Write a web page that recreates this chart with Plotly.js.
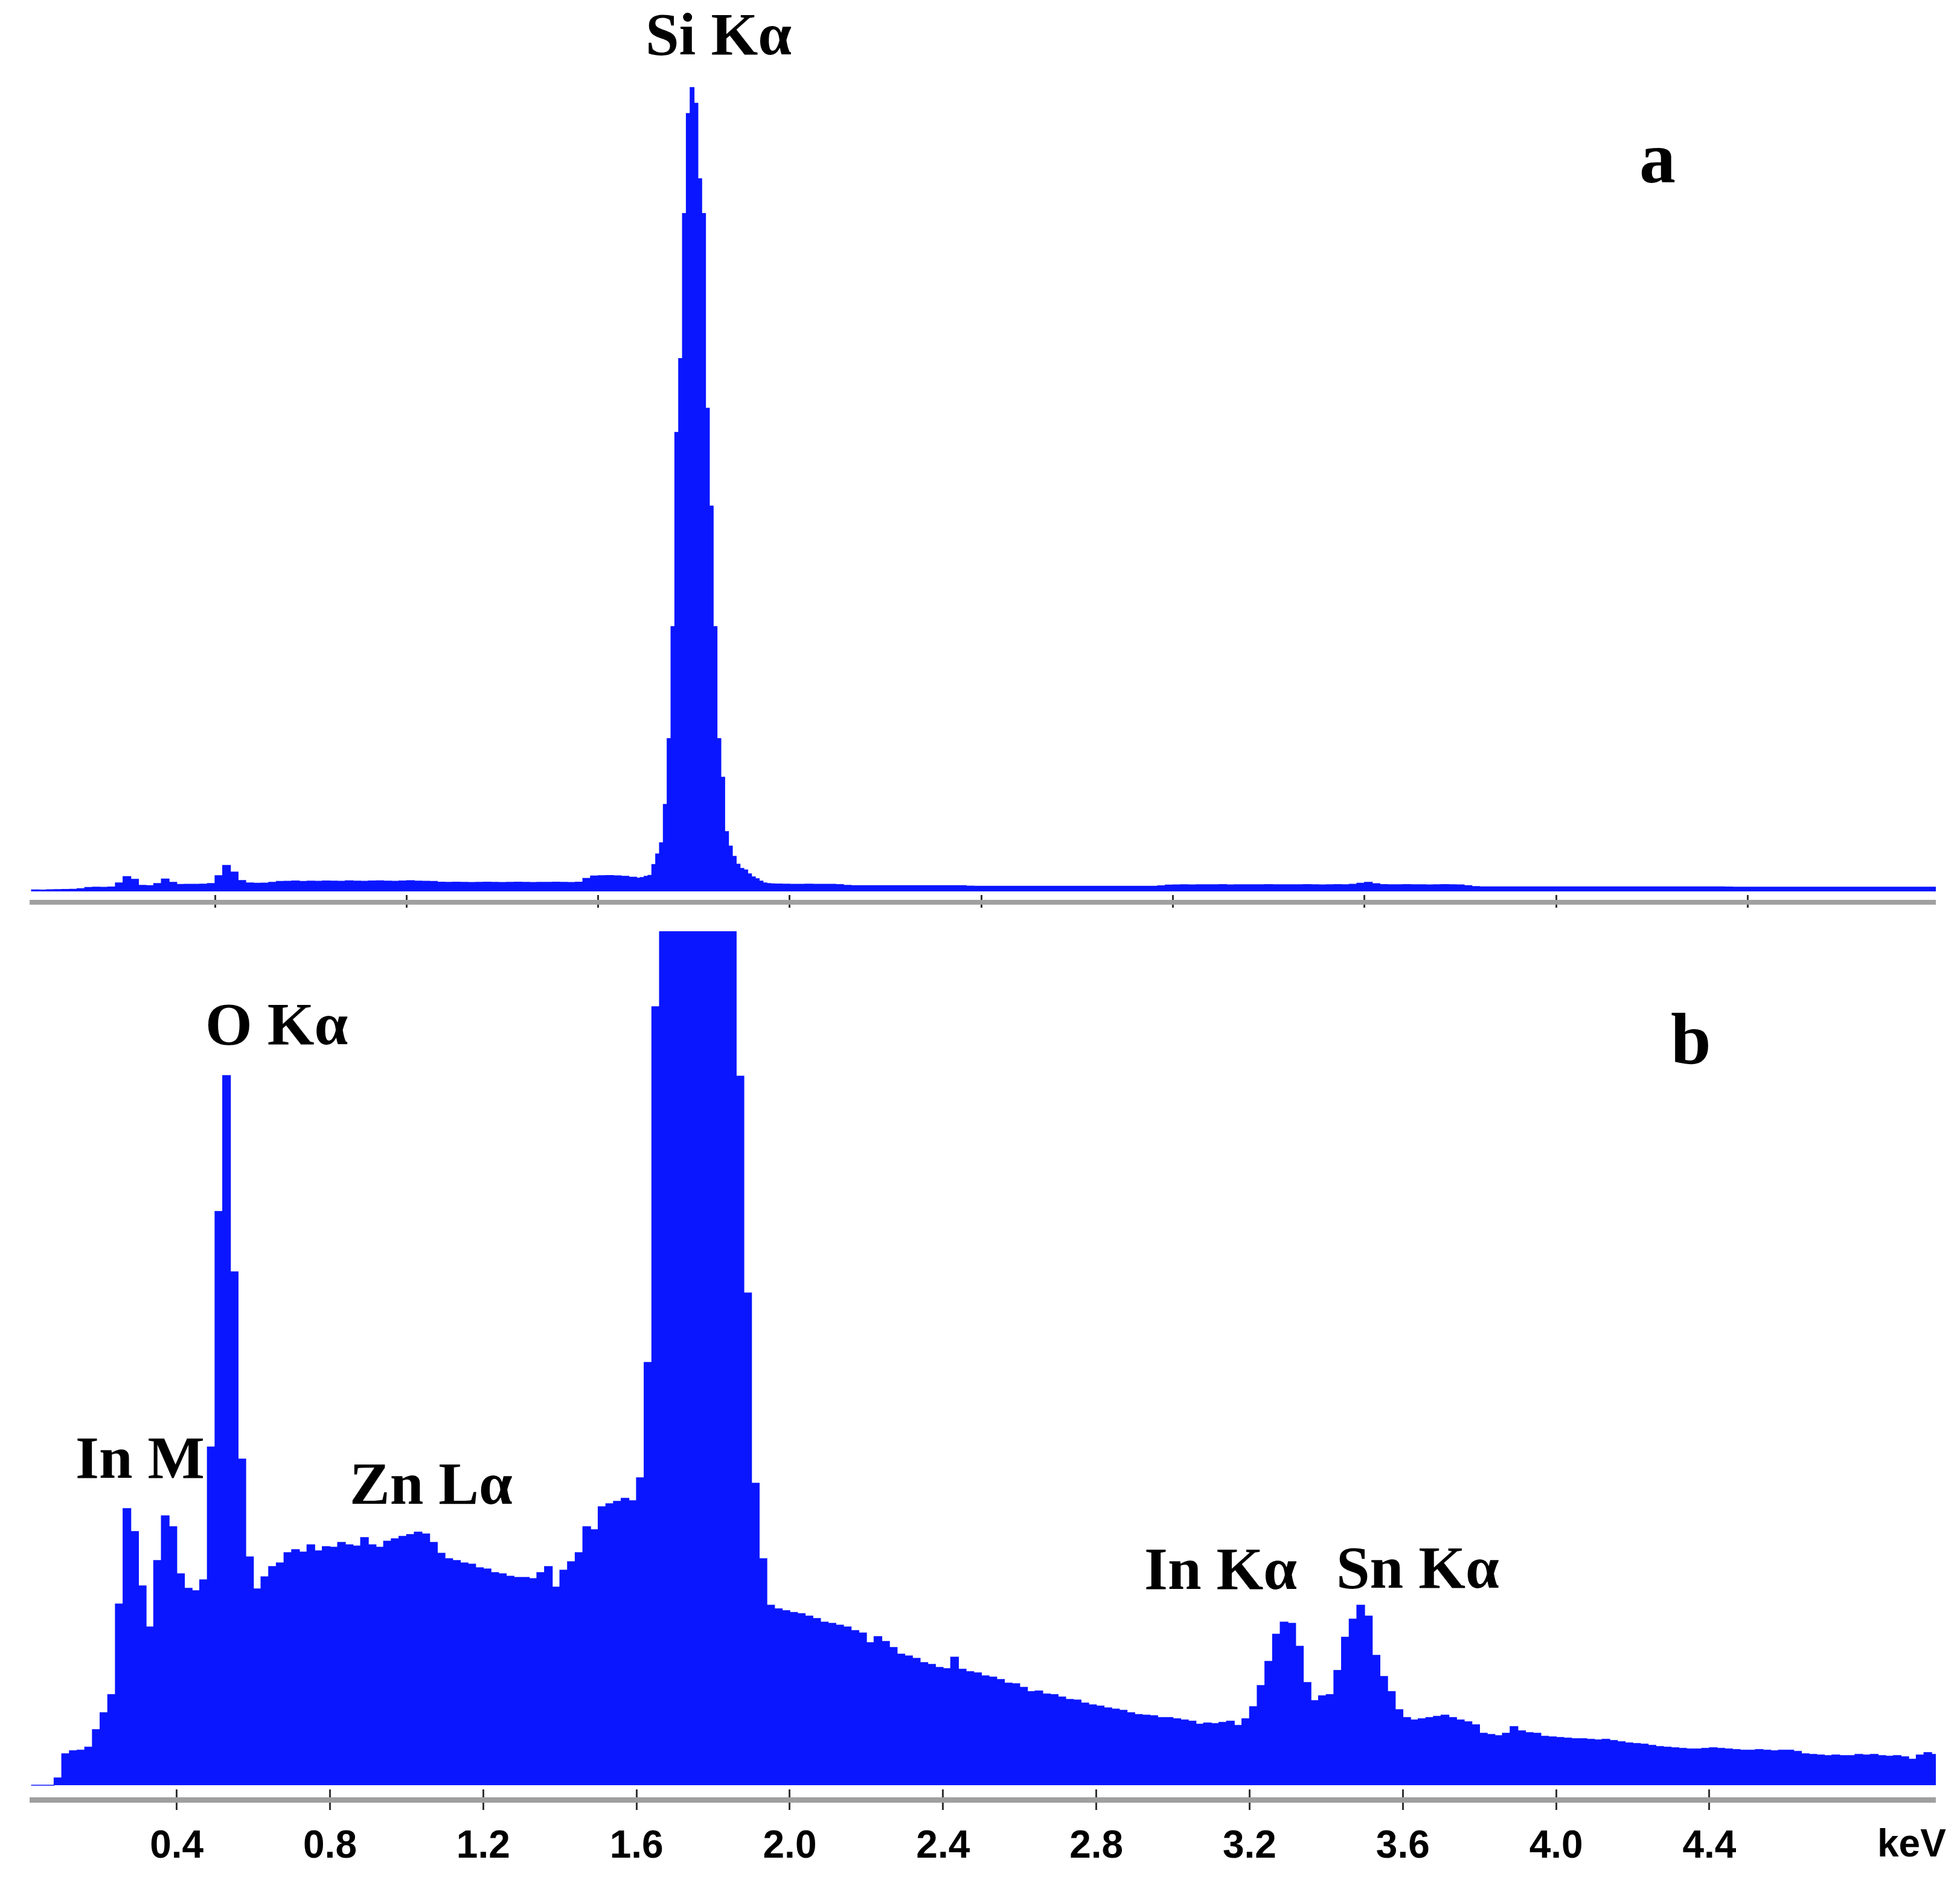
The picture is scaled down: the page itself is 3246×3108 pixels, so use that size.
<!DOCTYPE html>
<html><head><meta charset="utf-8">
<script src="https://cdn.plot.ly/plotly-3.0.1.min.js"></script>
<style>html,body{margin:0;padding:0;background:#fff}#chart{width:3246px;height:3108px}</style>
</head><body><div id="chart"></div>
<script>
// ---- data: panel a (energy in keV, counts) ----
const energyA = [
0.02,0.04,0.06,0.08,0.10,0.12,0.14,0.16,0.18,0.20,
0.22,0.24,0.26,0.28,0.30,0.32,0.34,0.36,0.38,0.40,
0.42,0.44,0.46,0.48,0.50,0.52,0.54,0.56,0.58,0.60,
0.62,0.64,0.66,0.68,0.70,0.72,0.74,0.76,0.78,0.80,
0.82,0.84,0.86,0.88,0.90,0.92,0.94,0.96,0.98,1.00,
1.02,1.04,1.06,1.08,1.10,1.12,1.14,1.16,1.18,1.20,
1.22,1.24,1.26,1.28,1.30,1.32,1.34,1.36,1.38,1.40,
1.42,1.44,1.46,1.48,1.50,1.52,1.54,1.56,1.58,
1.60,1.61,1.62,1.63,1.64,1.65,1.66,1.67,1.68,1.69,
1.70,1.71,1.72,1.73,1.74,1.75,1.76,1.77,1.78,1.79,
1.80,1.81,1.82,1.83,1.84,1.85,1.86,1.87,1.88,1.89,
1.90,1.91,1.92,1.93,1.94,1.95,
1.96,1.98,2.00,
2.02,2.04,2.06,2.08,2.10,2.12,2.14,2.16,2.18,2.20,
2.22,2.24,2.26,2.28,2.30,2.32,2.34,2.36,2.38,2.40,
2.42,2.44,2.46,2.48,2.50,2.52,2.54,2.56,2.58,2.60,
2.62,2.64,2.66,2.68,2.70,2.72,2.74,2.76,2.78,2.80,
2.82,2.84,2.86,2.88,2.90,2.92,2.94,2.96,2.98,3.00,
3.02,3.04,3.06,3.08,3.10,3.12,3.14,3.16,3.18,3.20,
3.22,3.24,3.26,3.28,3.30,3.32,3.34,3.36,3.38,3.40,
3.42,3.44,3.46,3.48,3.50,3.52,3.54,3.56,3.58,3.60,
3.62,3.64,3.66,3.68,3.70,3.72,3.74,3.76,3.78,3.80,
3.82,3.84,3.86,3.88,3.90,3.92,3.94,3.96,3.98,4.00,
4.02,4.04,4.06,4.08,4.10,4.12,4.14,4.16,4.18,4.20,
4.22,4.24,4.26,4.28,4.30,4.32,4.34,4.36,4.38,4.40,
4.42,4.44,4.46,4.48,4.50,4.52,4.54,4.56,4.58,4.60,
4.62,4.64,4.66,4.68,4.70,4.72,4.74,4.76,4.78,4.80,
4.82,4.84,4.86,4.88,4.90,4.92,4.94,4.96,4.98,5.00
];
const countsA = [
25,22,28,30,32,35,45,65,70,68,
72,140,245,200,100,95,130,205,150,115,
118,118,120,130,260,430,320,180,140,135,
138,150,165,168,172,166,170,168,172,170,
168,174,170,168,172,176,170,168,172,178,
170,168,165,152,150,152,150,148,150,152,
150,148,150,152,150,148,150,150,152,150,
148,152,215,255,260,262,258,250,235,
220,230,250,265,445,620,805,1440,2530,4385,
7600,8823,11224,12881,13310,13050,11800,11224,8000,6380,
4385,2530,1890,990,750,580,450,380,355,290,
240,210,170,140,130,125,
122,120,118,
118,119,118,117,118,112,100,96,95,95,
94,95,96,95,94,95,95,94,95,96,
95,94,88,86,85,86,84,85,86,85,
84,85,86,84,85,85,86,84,85,86,
85,84,86,85,85,86,84,92,104,108,
110,108,111,109,110,112,108,110,111,109,
110,112,110,109,111,110,112,110,108,111,
112,110,118,135,150,128,112,110,109,112,
110,111,108,110,112,109,108,96,80,76,
75,76,74,75,76,75,74,75,76,75,
74,75,76,75,74,75,76,74,75,75,
76,74,75,75,74,76,75,74,75,75,
74,73,70,71,70,69,70,71,70,69,
70,71,70,69,70,70,71,69,70,70,
69,70,71,70,69,70,70,69,70,70
];

// ---- data: panel b ----
const energyB = [
0.02,0.04,0.06,0.08,0.10,0.12,0.14,0.16,0.18,0.20,
0.22,0.24,0.26,0.28,0.30,0.32,0.34,0.36,0.38,0.40,
0.42,0.44,0.46,0.48,0.50,0.52,0.54,0.56,0.58,0.60,
0.62,0.64,0.66,0.68,0.70,0.72,0.74,0.76,0.78,0.80,
0.82,0.84,0.86,0.88,0.90,0.92,0.94,0.96,0.98,1.00,
1.02,1.04,1.06,1.08,1.10,1.12,1.14,1.16,1.18,1.20,
1.22,1.24,1.26,1.28,1.30,1.32,1.34,1.36,1.38,1.40,
1.42,1.44,1.46,1.48,1.50,1.52,1.54,1.56,1.58,1.60,
1.62,1.64,1.66,1.68,1.70,1.72,1.74,1.76,1.78,1.80,
1.82,1.84,1.86,1.88,1.90,1.92,1.94,1.96,1.98,2.00,
2.02,2.04,2.06,2.08,2.10,2.12,2.14,2.16,2.18,2.20,
2.22,2.24,2.26,2.28,2.30,2.32,2.34,2.36,2.38,2.40,
2.42,2.44,2.46,2.48,2.50,2.52,2.54,2.56,2.58,2.60,
2.62,2.64,2.66,2.68,2.70,2.72,2.74,2.76,2.78,2.80,
2.82,2.84,2.86,2.88,2.90,2.92,2.94,2.96,2.98,3.00,
3.02,3.04,3.06,3.08,3.10,3.12,3.14,3.16,3.18,3.20,
3.22,3.24,3.26,3.28,3.30,3.32,3.34,3.36,3.38,3.40,
3.42,3.44,3.46,3.48,3.50,3.52,3.54,3.56,3.58,3.60,
3.62,3.64,3.66,3.68,3.70,3.72,3.74,3.76,3.78,3.80,
3.82,3.84,3.86,3.88,3.90,3.92,3.94,3.96,3.98,4.00,
4.02,4.04,4.06,4.08,4.10,4.12,4.14,4.16,4.18,4.20,
4.22,4.24,4.26,4.28,4.30,4.32,4.34,4.36,4.38,4.40,
4.42,4.44,4.46,4.48,4.50,4.52,4.54,4.56,4.58,4.60,
4.62,4.64,4.66,4.68,4.70,4.72,4.74,4.76,4.78,4.80,
4.82,4.84,4.86,4.88,4.90,4.92,4.94,4.96,4.98,5.00
];
const countsB = [
0,0,0,12,52,57,58,63,92,120,
150,300,458,420,330,262,372,446,428,350,
326,322,340,560,950,1175,850,540,378,325,
345,362,368,385,390,386,398,388,395,394,
402,398,396,410,398,394,404,408,412,415,
419,416,402,384,375,372,368,366,360,358,
352,350,346,344,344,342,352,362,328,356,
370,385,428,423,461,466,470,475,471,509,
700,1289,2600,5200,8000,9600,9800,8200,5600,3400,
2200,1600,1174,815,500,375,298,292,289,286,
284,280,276,270,268,265,262,256,252,236,
246,238,228,217,214,210,203,200,195,193,
212,192,188,186,181,179,175,169,168,162,
155,156,151,150,146,142,141,136,133,131,
128,126,124,120,117,116,115,112,112,110,
108,106,101,103,102,104,106,99,110,130,
165,205,250,270,268,230,170,140,148,150,
190,245,275,298,280,215,180,155,125,112,
108,110,112,114,116,112,108,105,100,86,
84,82,86,97,90,87,86,81,80,79,
78,77,77,76,75,76,74,72,70,69,
68,66,64,63,62,61,60,60,61,62,
61,60,59,58,58,59,58,57,58,58,
56,52,51,50,49,50,49,49,51,50,
51,49,48,49,47,43,50,54,51,51
];

// ---- ticks and labels ----
const tickValsA = [0.5,1.0,1.5,2.0,2.5,3.0,3.5,4.0,4.5];
const tickValsB = [0.4,0.8,1.2,1.6,2.0,2.4,2.8,3.2,3.6,4.0,4.4];
const tickTextB = ['0.4','0.8','1.2','1.6','2.0','2.4','2.8','3.2','3.6','4.0','4.4'];
const peakLabels = ['Si Kα','O Kα','In M','Zn Lα','In Kα','Sn Kα'];
const panelLabels = ['a','b'];
const unitLabel = 'keV';

// ---- layout helpers (pixel -> paper) ----
const W = 3246, H = 3108;
const px = v => v / W;
const py = v => 1 - v / H;
const BLUE = 'rgb(10,22,255)';

const peakPos = [[1190,56],[458,1695],[232,2413],[714,2456],[2021,2597],[2348,2595]];
const panelPos = [[2745,262],[2800,1720]];

const xDomain = [px(49), px(3206)];
const xRange = [0.016, 4.991];

const traces = [
  {x: energyA, y: countsA, type:'scatter', mode:'lines', xaxis:'x', yaxis:'y',
   line:{shape:'hv', color:BLUE, width:1.5}, fill:'tozeroy', fillcolor:BLUE, hoverinfo:'skip'},
  {x: energyB, y: countsB, type:'scatter', mode:'lines', xaxis:'x2', yaxis:'y2',
   line:{shape:'hv', color:BLUE, width:1.5}, fill:'tozeroy', fillcolor:BLUE, hoverinfo:'skip'},
  {x: [], y: [], type:'scatter', xaxis:'x3', yaxis:'y', hoverinfo:'skip'},
  {x: [], y: [], type:'scatter', xaxis:'x4', yaxis:'y2', hoverinfo:'skip'}
];

const baseX = {domain:xDomain, range:xRange, showgrid:false, zeroline:false, fixedrange:true};

const annotations = [];
const serif = {family:'Liberation Serif, Times New Roman, serif', color:'#000', weight:'bold'};
peakLabels.forEach((t,i) => annotations.push({
  text:t, xref:'paper', yref:'paper', x:px(peakPos[i][0]), y:py(peakPos[i][1]),
  xanchor:'center', yanchor:'middle', showarrow:false,
  font:Object.assign({size:100}, serif)
}));
panelLabels.forEach((t,i) => annotations.push({
  text:t, xref:'paper', yref:'paper', x:px(panelPos[i][0]), y:py(panelPos[i][1]),
  xanchor:'center', yanchor:'middle', showarrow:false,
  font:Object.assign({size:120}, serif)
}));
annotations.push({
  text:unitLabel, xref:'paper', yref:'paper', x:px(3166), y:py(3052),
  xanchor:'center', yanchor:'middle', showarrow:false,
  font:{family:'Liberation Sans, Arial, sans-serif', size:64, color:'#000', weight:'bold'}
});

const layout = {
  width:W, height:H, margin:{l:0,r:0,t:0,b:0},
  paper_bgcolor:'#fff', plot_bgcolor:'rgba(0,0,0,0)', showlegend:false,
  xaxis: Object.assign({}, baseX, {anchor:'y', showline:true, linecolor:'#a0a0a0', linewidth:8,
    ticks:'outside', ticklen:5, tickwidth:3, tickcolor:'#333', tickmode:'array', tickvals:tickValsA,
    showticklabels:false}),
  xaxis3: Object.assign({}, baseX, {anchor:'y', overlaying:'x', showline:false,
    ticks:'inside', ticklen:8, tickwidth:3, tickcolor:'#333', tickmode:'array', tickvals:tickValsA,
    showticklabels:false}),
  yaxis: {domain:[py(1490), py(100)], range:[-140, 13760], visible:false, fixedrange:true},
  xaxis2: Object.assign({}, baseX, {anchor:'y2', showline:true, linecolor:'#a0a0a0', linewidth:9,
    ticks:'outside', ticklen:12, tickwidth:3, tickcolor:'#333', tickmode:'array',
    tickvals:tickValsB, ticktext:tickTextB, showticklabels:true, ticklabelstandoff:2,
    tickfont:{family:'Liberation Sans, Arial, sans-serif', size:64, color:'#000', weight:'bold'}}),
  xaxis4: Object.assign({}, baseX, {anchor:'y2', overlaying:'x2', showline:false,
    ticks:'inside', ticklen:13, tickwidth:3, tickcolor:'#333', tickmode:'array', tickvals:tickValsB,
    showticklabels:false}),
  yaxis2: {domain:[py(2976), py(1542)], range:[-20, 1414], visible:false, fixedrange:true},
  annotations: annotations
};

Plotly.newPlot('chart', traces, layout, {staticPlot:true, displayModeBar:false});
</script>
</body></html>
